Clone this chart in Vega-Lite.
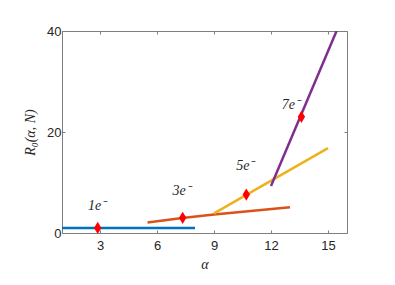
{
  "$schema": "https://vega.github.io/schema/vega-lite/v6.json",
  "width": 285,
  "height": 202,
  "autosize": {"type": "none"},
  "padding": {"left": 62, "top": 31, "right": 48, "bottom": 52},
  "background": "white",
  "config": {
    "view": {"stroke": null},
    "axis": {
      "domainColor": "#7f7f7f",
      "tickColor": "#7f7f7f",
      "tickSize": -3,
      "grid": false,
      "labelFont": "Liberation Sans",
      "labelFontSize": 13,
      "labelColor": "#262626",
      "titleFont": "Liberation Serif",
      "titleFontStyle": "italic",
      "titleFontWeight": "normal",
      "titleFontSize": 14,
      "titleColor": "#262626"
    }
  },
  "datasets": {
    "lines": [
      {"series": "1", "x": 1, "y": 1},
      {"series": "1", "x": 8, "y": 1},
      {"series": "3", "x": 5.5, "y": 2.1},
      {"series": "3", "x": 7.33, "y": 2.95},
      {"series": "3", "x": 9, "y": 3.65},
      {"series": "3", "x": 13, "y": 5.1},
      {"series": "5", "x": 9, "y": 3.9},
      {"series": "5", "x": 15, "y": 16.8},
      {"series": "7", "x": 12, "y": 9.3},
      {"series": "7", "x": 15.45, "y": 40}
    ],
    "points": [
      {"x": 2.88, "y": 1, "label": "1e⁻", "lx": 2.85, "ly": 5.3},
      {"x": 7.35, "y": 3.0, "label": "3e⁻", "lx": 7.3, "ly": 8.4},
      {"x": 10.7, "y": 7.6, "label": "5e⁻", "lx": 10.65, "ly": 13.3},
      {"x": 13.6, "y": 23.0, "label": "7e⁻", "lx": 13.05, "ly": 25.3}
    ]
  },
  "resolve": {"axis": {"x": "independent", "y": "independent"}},
  "layer": [
    {
      "data": {"name": "lines"},
      "mark": {"type": "line", "strokeWidth": 2.5, "clip": true},
      "encoding": {
        "x": {"field": "x", "type": "quantitative", "scale": {"domain": [1, 16], "nice": false},
              "axis": {"values": [3, 6, 9, 12, 15], "title": "α", "labelPadding": 9, "titlePadding": 5}},
        "y": {"field": "y", "type": "quantitative", "scale": {"domain": [0, 40], "nice": false},
              "axis": {"values": [0, 20, 40], "title": "R₀(α, N)", "labelPadding": 4, "titlePadding": 9}},
        "color": {"field": "series", "type": "nominal", "legend": null,
                  "scale": {"domain": ["1", "3", "5", "7"], "range": ["#0072BD", "#D95319", "#EDB120", "#7E2F8E"]}},
        "detail": {"field": "series"}
      }
    },
    {
      "data": {"name": "points"},
      "mark": {"type": "point", "shape": "M0,-1L0.6,0L0,1L-0.6,0Z", "filled": true, "size": 150, "color": "#FF0000", "opacity": 1},
      "encoding": {
        "x": {"field": "x", "type": "quantitative",
              "axis": {"orient": "top", "values": [3, 6, 9, 12, 15], "labels": false, "title": null}},
        "y": {"field": "y", "type": "quantitative",
              "axis": {"orient": "right", "values": [0, 20, 40], "labels": false, "title": null}}
      }
    },
    {
      "data": {"name": "points"},
      "mark": {"type": "text", "font": "Liberation Serif", "fontStyle": "italic", "fontSize": 14, "color": "#262626", "align": "center", "baseline": "middle"},
      "encoding": {
        "x": {"field": "lx", "type": "quantitative", "axis": null},
        "y": {"field": "ly", "type": "quantitative", "axis": null},
        "text": {"field": "label"}
      }
    }
  ]
}
